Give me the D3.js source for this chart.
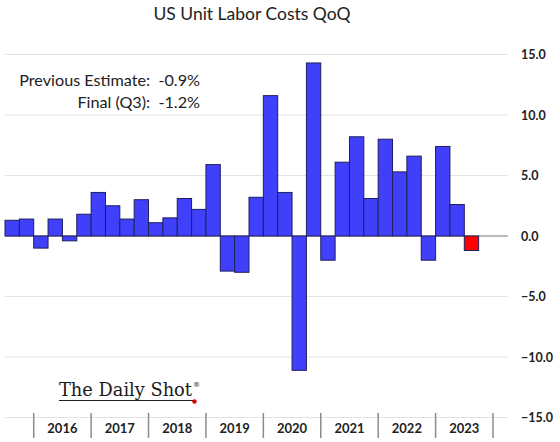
<!DOCTYPE html>
<html>
<head>
<meta charset="utf-8">
<script src="https://cdn.jsdelivr.net/npm/d3@7"></script>
<style>
  html, body { margin: 0; padding: 0; background: #fff; }
  svg { display: block; }
</style>
</head>
<body>
<svg id="chart" width="560" height="442"></svg>
<script>
// ---- data ----
const quarters = [
  "2015Q3","2015Q4",
  "2016Q1","2016Q2","2016Q3","2016Q4",
  "2017Q1","2017Q2","2017Q3","2017Q4",
  "2018Q1","2018Q2","2018Q3","2018Q4",
  "2019Q1","2019Q2","2019Q3","2019Q4",
  "2020Q1","2020Q2","2020Q3","2020Q4",
  "2021Q1","2021Q2","2021Q3","2021Q4",
  "2022Q1","2022Q2","2022Q3","2022Q4",
  "2023Q1","2023Q2","2023Q3","2023Q4"
];
const values = [
  1.3, 1.4,
  -1.0, 1.4, -0.4, 1.8,
  3.6, 2.5, 1.4, 3.0,
  1.1, 1.5, 3.1, 2.2,
  5.9, -2.9, -3.0, 3.2,
  11.6, 3.6, -11.1, 14.3,
  -2.0, 6.1, 8.2, 3.1,
  8.0, 5.3, 6.6, -2.0,
  7.4, 2.6, -1.2
];
const years = ["2016","2017","2018","2019","2020","2021","2022","2023"];
const yTicks = [-15, -10, -5, 0, 5, 10, 15];
const titleText = "US Unit Labor Costs QoQ";
const noteLines = ["Previous Estimate:  -0.9%", "Final (Q3):  -1.2%"];
const highlightIndex = values.length - 1;

// ---- layout ----
const svg = d3.select("#chart");
const plotLeft = 5, plotRight = 493, gridRight = 508;
const y = d3.scaleLinear().domain([-15, 15]).range([417.5, 54.5]);
const x = d3.scaleBand().domain(quarters).range([plotLeft, plotRight]).padding(0);
const xYear = d3.scaleBand().domain(years).range([x(years[0] + "Q1"), plotRight]).padding(0);

const font = "Lato, 'Noto Sans', sans-serif";
const textColor = "#222";

// title
svg.append("text")
  .attr("x", 252).attr("y", 20)
  .attr("text-anchor", "middle")
  .style("font-family", font).style("font-size", "17.5px")
  .attr("fill", textColor)
  .text(titleText);

// gridlines
svg.append("g").selectAll("line")
  .data(yTicks.filter(d => d !== 0))
  .join("line")
  .attr("x1", plotLeft).attr("x2", gridRight)
  .attr("y1", d => y(d)).attr("y2", d => y(d))
  .attr("stroke", "#e3e3e3").attr("stroke-width", 1);

// y tick labels (right side)
const yAxis = d3.axisRight(y).tickValues(yTicks).tickFormat(d3.format(".1f")).tickSize(0).tickPadding(0);
const gy = svg.append("g").attr("transform", `translate(521,0)`).call(yAxis);
gy.select(".domain").remove();
gy.selectAll("text")
  .style("font-family", font).style("font-size", "12.5px").style("font-weight", "bold")
  .attr("fill", textColor);

// annotation box (covers gridlines)
svg.append("rect").attr("x", 0).attr("y", 62).attr("width", 208).attr("height", 52).attr("fill", "#fff");
svg.append("g").selectAll("text")
  .data(noteLines)
  .join("text")
  .attr("x", 200).attr("y", (d, i) => 86 + i * 22)
  .attr("text-anchor", "end")
  .style("font-family", font).style("font-size", "16.2px").style("white-space", "pre")
  .attr("fill", textColor)
  .text(d => d);

// zero line
svg.append("line")
  .attr("x1", plotLeft).attr("x2", gridRight)
  .attr("y1", y(0)).attr("y2", y(0))
  .attr("stroke", "#a6a6a6").attr("stroke-width", 1.5);

// bars
svg.append("g").selectAll("rect")
  .data(values)
  .join("rect")
  .attr("x", (d, i) => x(quarters[i]))
  .attr("width", x.bandwidth())
  .attr("y", d => y(Math.max(0, d)))
  .attr("height", d => Math.abs(y(d) - y(0)))
  .attr("fill", (d, i) => i === highlightIndex ? "#ff0000" : "#4040fa")
  .attr("stroke", "#1f1f5e").attr("stroke-width", 1);

// year axis
const sepX = years.map(d => xYear(d)).concat([xYear.range()[1]]);
svg.append("g").selectAll("line")
  .data(sepX)
  .join("line")
  .attr("x1", d => d).attr("x2", d => d)
  .attr("y1", 413).attr("y2", 438)
  .attr("stroke", "#8c8c8c").attr("stroke-width", 1.5);
svg.append("g").selectAll("text")
  .data(years)
  .join("text")
  .attr("x", d => xYear(d) + xYear.bandwidth() / 2)
  .attr("y", 433)
  .attr("text-anchor", "middle")
  .style("font-family", font).style("font-size", "13px").style("font-weight", "bold")
  .attr("fill", textColor)
  .text(d => d);

// logo
const logo = svg.append("g");
logo.append("text")
  .attr("x", 59).attr("y", 396)
  .attr("textLength", 133).attr("lengthAdjust", "spacingAndGlyphs")
  .style("font-family", "'DejaVu Serif', 'Liberation Serif', serif").style("font-size", "18px")
  .style("font-weight", "500")
  .attr("fill", "#1a1a1a")
  .text("The Daily Shot");
logo.append("text")
  .attr("x", 193).attr("y", 387)
  .style("font-family", "'DejaVu Serif', serif").style("font-size", "7px")
  .attr("fill", "#222")
  .text("®");
logo.append("line")
  .attr("x1", 59).attr("x2", 193).attr("y1", 400.5).attr("y2", 400.5)
  .attr("stroke", "#222").attr("stroke-width", 1.2);
logo.append("circle").attr("cx", 194.5).attr("cy", 401.5).attr("r", 2.2).attr("fill", "#e00000");
</script>
</body>
</html>
